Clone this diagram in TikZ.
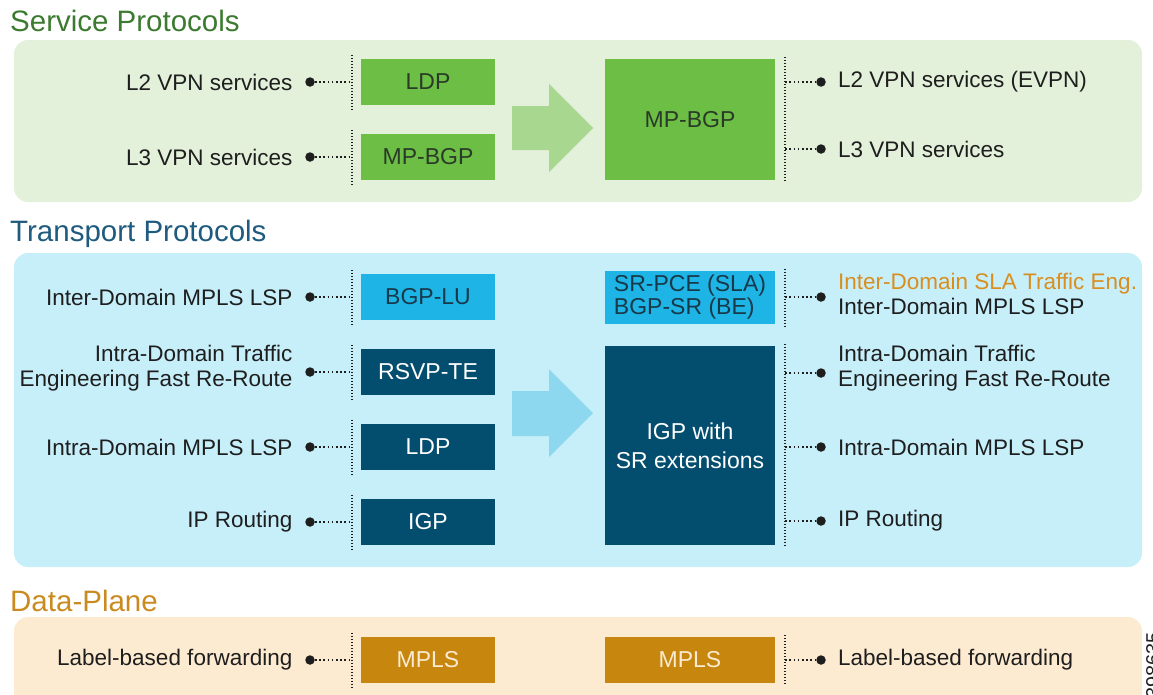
\documentclass[tikz,border=0pt]{standalone}
\usepackage{fontspec}
\setmainfont{Liberation Sans}
\usepackage{xcolor}
\usepackage{tikz}
\usetikzlibrary{positioning}

\definecolor{svcpanel}{HTML}{E3F0DA}
\definecolor{svctitle}{HTML}{3C7A30}
\definecolor{leaf}{HTML}{6CBE45}
\definecolor{leaftext}{HTML}{2A3A28}
\definecolor{leafarrow}{HTML}{A8D78F}
\definecolor{trpanel}{HTML}{C6EFFA}
\definecolor{trtitle}{HTML}{1E5B7E}
\definecolor{sky}{HTML}{1EB4E5}
\definecolor{skytext}{HTML}{17394A}
\definecolor{deepblue}{HTML}{034E6F}
\definecolor{skyarrow}{HTML}{8DD7EF}
\definecolor{dppanel}{HTML}{FDEBD1}
\definecolor{dptitle}{HTML}{C98A1F}
\definecolor{amber}{HTML}{C7870F}
\definecolor{ambertext}{HTML}{FBEBD2}
\definecolor{eng}{HTML}{D98E1F}
\definecolor{ink}{HTML}{1E1E1E}

\begin{document}
\begin{tikzpicture}[x=1pt, y=-1pt,
    heading/.style={anchor=base west, inner sep=0pt, font=\fontsize{29.5}{33}\selectfont},
    block/.style={rectangle, minimum width=134pt, minimum height=46pt, inner sep=0pt, align=center, font=\fontsize{23}{29}\selectfont},
    wide/.style={block, minimum width=170pt},
    lbl/.style={inner sep=0pt, text=ink, font=\fontsize{22.5}{25}\selectfont},
    dot/.style={circle, fill=ink, minimum size=9.5pt, inner sep=0pt},
    link/.style={ink, line width=1.6pt, dash pattern=on 1.6pt off 2.6pt},
    rail/.style={ink, line width=1.5pt, dash pattern=on 1.5pt off 1.5pt}]

    \useasboundingbox (0,0) rectangle (1153,694);

    \fill[svcpanel, rounded corners=14pt] (14,40) rectangle (1142,202);
    \fill[trpanel, rounded corners=14pt] (14,253) rectangle (1142,567);
    \fill[dppanel, rounded corners=14pt] (14,617) rectangle (1142,715);

    \node[heading, text=svctitle] (svchead) at (10,31) {Service Protocols};
    \node[heading, text=trtitle] (trhead) at (10,241) {Transport Protocols};
    \node[heading, text=dptitle] (dphead) at (10,611) {Data-Plane};

    \node[block, fill=leaf, text=leaftext] (ldp) at (428,82) {LDP};
    \node[block, fill=leaf, text=leaftext] (bgpl) at (428,157) {MP-BGP};
    \node[wide, fill=leaf, text=leaftext, minimum height=121pt] (bgpr) at (690,119.5) {MP-BGP};

    \node[block, fill=sky, text=skytext] (bgplu) at (428,297) {BGP-LU};
    \node[block, fill=deepblue, text=white] (rsvp) at (428,372) {RSVP-TE};
    \node[block, fill=deepblue, text=white] (ldpt) at (428,447) {LDP};
    \node[block, fill=deepblue, text=white] (igp) at (428,522) {IGP};
    \node[wide, fill=sky, text=skytext, minimum height=53pt, align=left, font=\fontsize{23}{23}\selectfont] (srpce) at (690,297.5) {SR-PCE (SLA)\\BGP-SR (BE)};
    \node[wide, fill=deepblue, text=white, minimum height=199pt] (igpsr) at (690,445.5) {IGP with\\SR extensions};

    \node[block, fill=amber, text=ambertext] (mplsl) at (428,660) {MPLS};
    \node[wide, fill=amber, text=ambertext] (mplsr) at (690,660) {MPLS};

    \fill[leafarrow] (512,106) -- (549,106) -- (549,84) -- (593,128) -- (549,172) -- (549,150) -- (512,150) -- cycle;
    \fill[skyarrow] (512,391) -- (549,391) -- (549,369) -- (593,413) -- (549,457) -- (549,436) -- (512,436) -- cycle;

    \node[dot] (dl2) at (310,82) {};
    \node[lbl, left=12.5pt of dl2] (ll2) {L2 VPN services};
    \node[dot] (dl3) at (310,157) {};
    \node[lbl, left=12.5pt of dl3] (ll3) {L3 VPN services};
    \node[dot] (dr2) at (821,82) {};
    \node[lbl, right=12pt of dr2] (rl2) {L2 VPN services (EVPN)};
    \node[dot] (dr3) at (821,149) {};
    \node[lbl, right=12pt of dr3] (rl3) {L3 VPN services};

    \node[dot] (dinter) at (310,297) {};
    \node[lbl, left=12.5pt of dinter] (linter) {Inter-Domain MPLS LSP};
    \node[dot] (dte) at (310,372) {};
    \node[lbl, left=12.5pt of dte, yshift=4pt, align=right] (lte) {Intra-Domain Traffic\\Engineering Fast Re-Route};
    \node[dot] (dintra) at (310,447) {};
    \node[lbl, left=12.5pt of dintra] (lintra) {Intra-Domain MPLS LSP};
    \node[dot] (dip) at (310,522) {};
    \node[lbl, left=12.5pt of dip] (lip) {IP Routing};

    \node[dot] (rinter) at (821,297) {};
    \node[lbl, right=12pt of rinter, yshift=3pt, align=left] (tinter) {\textcolor{eng}{Inter-Domain SLA Traffic Eng.}\\Inter-Domain MPLS LSP};
    \node[dot] (rte) at (821,373) {};
    \node[lbl, right=12pt of rte, yshift=5pt, align=left] (tte) {Intra-Domain Traffic\\Engineering Fast Re-Route};
    \node[dot] (rintra) at (821,447) {};
    \node[lbl, right=12pt of rintra] (tintra) {Intra-Domain MPLS LSP};
    \node[dot] (rip) at (821,521) {};
    \node[lbl, right=12pt of rip] (tip) {IP Routing};

    \node[dot] (dfwd) at (310,660) {};
    \node[lbl, left=12.5pt of dfwd] (lfwd) {Label-based forwarding};
    \node[dot] (rfwd) at (821,660) {};
    \node[lbl, right=12pt of rfwd] (tfwd) {Label-based forwarding};

    \foreach \b in {ldp,bgpl,bgplu,rsvp,ldpt,igp,mplsl}
        \draw[rail] ([xshift=-9pt,yshift=4pt]\b.north west) -- ([xshift=-9pt,yshift=-4pt]\b.south west);
    \foreach \b in {bgpr,srpce,igpsr,mplsr}
        \draw[rail] ([xshift=10pt,yshift=2pt]\b.north east) -- ([xshift=10pt,yshift=-2pt]\b.south east);

    \foreach \d/\b in {dl2/ldp, dl3/bgpl, dinter/bgplu, dte/rsvp, dintra/ldpt, dip/igp, dfwd/mplsl}
        \draw[link, shorten >=9pt] (\d) -- (\d -| \b.west);
    \foreach \d/\b in {dr2/bgpr, dr3/bgpr, rinter/srpce, rte/igpsr, rintra/igpsr, rip/igpsr, rfwd/mplsr}
        \draw[link, shorten <=10pt] (\d -| \b.east) -- (\d);

    \node[rotate=90, anchor=north east, inner sep=0pt, text=ink, font=\fontsize{20}{20}\selectfont] (fignum) at (1146,632) {398635};
\end{tikzpicture}
\end{document}
